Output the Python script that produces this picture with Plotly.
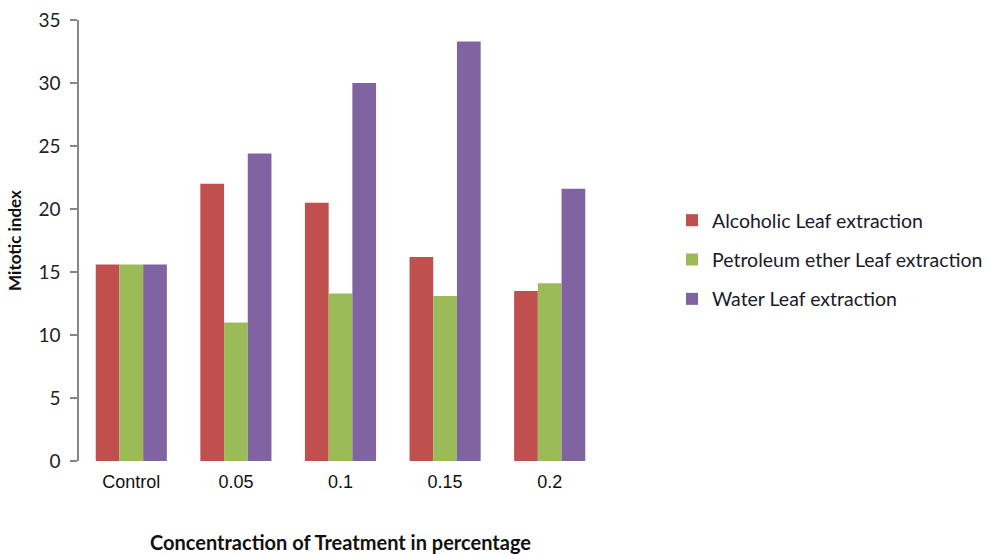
import plotly.graph_objects as go

# Mitotic index by treatment concentration for three leaf extracts
categories = ["Control", "0.05", "0.1", "0.15", "0.2"]
alcoholic = [15.6, 22.0, 20.5, 16.2, 13.5]
petroleum_ether = [15.6, 11.0, 13.3, 13.1, 14.1]
water = [15.6, 24.4, 30.0, 33.3, 21.6]
y_ticks = [0, 5, 10, 15, 20, 25, 30, 35]

series = [
    ("Alcoholic Leaf extraction", alcoholic, "#C0504D"),
    ("Petroleum ether Leaf extraction", petroleum_ether, "#9BBB59"),
    ("Water Leaf extraction", water, "#8064A2"),
]

fig = go.Figure()
for i, (name, vals, color) in enumerate(series):
    fig.add_trace(go.Bar(
        x=categories, y=vals, name=name,
        marker=dict(color=color, line=dict(width=0)),
        legendgroup=f"g{i}",
    ))

fig.update_layout(
    width=987, height=554,
    margin=dict(l=79, r=385, t=20, b=93, autoexpand=False),
    paper_bgcolor="white", plot_bgcolor="white",
    barmode="group", bargap=0.32, bargroupgap=0,
    font=dict(family="Lato", color="#1a1a1a"),
    legend=dict(
        x=1.1338, xanchor="left", y=0.4558, yanchor="middle",
        font=dict(family="Lato", size=19.5, color="#1a1a2a"),
        tracegroupgap=11, traceorder="grouped",
        bgcolor="rgba(0,0,0,0)", borderwidth=0,
    ),
    showlegend=True,
)

fig.update_xaxes(
    type="category", showgrid=False, showline=False, zeroline=False,
    automargin=False,
    ticks="", tickfont=dict(family="Liberation Sans", size=18, color="#111111"),
    ticklabelstandoff=8,
    title=dict(text="<b>Concentraction of Treatment in percentage</b>",
               font=dict(family="Lato", size=20, color="#111111"), standoff=54),
)
fig.update_yaxes(
    range=[0, 35], tickvals=y_ticks, showgrid=False, zeroline=False,
    automargin=False,
    showline=True, linecolor="#868686", linewidth=1.5,
    ticks="outside", ticklen=7, tickcolor="#868686", tickwidth=1.5,
    tickfont=dict(family="Lato", size=19, color="#222222"),
    ticklabelstandoff=6,
    title=dict(text="<b>Mitotic index</b>",
               font=dict(family="Lato", size=17, color="#111111"), standoff=12),
)

fig.write_html("out.html")
